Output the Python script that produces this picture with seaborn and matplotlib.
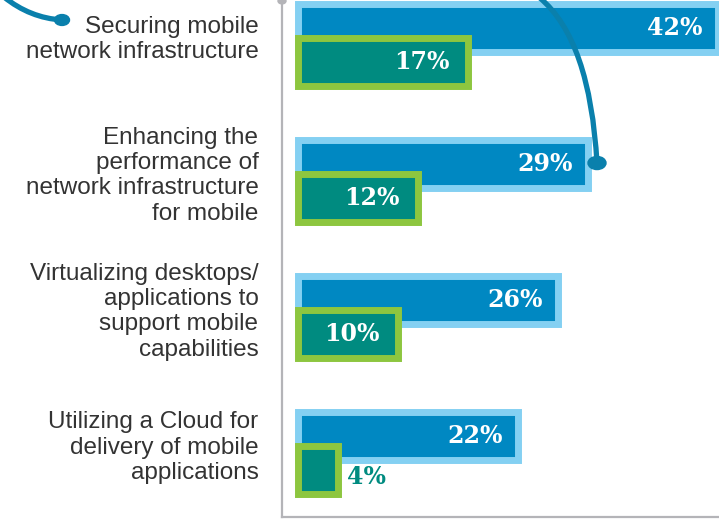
import numpy as np
import seaborn as sns
import matplotlib.pyplot as plt
from matplotlib.path import Path
from matplotlib.patches import PathPatch, Circle

# data
categories = [
    'Securing mobile\nnetwork infrastructure',
    'Enhancing the\nperformance of\nnetwork infrastructure\nfor mobile',
    'Virtualizing desktops/\napplications to\nsupport mobile\ncapabilities',
    'Utilizing a Cloud for\ndelivery of mobile\napplications',
]
blue_vals = [42, 29, 26, 22]
green_vals = [17, 12, 10, 4]

BLUE = '#0088c2'
BLUE_EDGE = '#84d0f2'
TEAL = '#008b80'
GREEN_EDGE = '#8dc63f'
CURVE = '#0a80ac'

sns.set_style('white')
plt.rcParams['font.family'] = ['Liberation Sans', 'DejaVu Sans']

fig = plt.figure(figsize=(7.19, 5.22), dpi=100)
ax = fig.add_axes([282 / 719, 5 / 522, 1 - 282 / 719, 517 / 522])

idx = np.arange(len(categories))
off = 0.125
sns.barplot(x=blue_vals, y=idx - off, orient='y', native_scale=True, width=0.35,
            color=BLUE, edgecolor=BLUE_EDGE, linewidth=5, saturation=1,
            errorbar=None, ax=ax)
sns.barplot(x=green_vals, y=idx + off, orient='y', native_scale=True, width=0.35,
            color=TEAL, edgecolor=GREEN_EDGE, linewidth=5, saturation=1,
            errorbar=None, ax=ax)

ax.set_xlim(-1.6, 42.1)
ax.set_ylim(3.47, -0.33)
ax.set_xticks([])
# labels sit a little above the middle of each pair of bars
ax.set_yticks(idx - 0.07)
ax.set_yticklabels(categories, fontsize=17.5, color='#333333', linespacing=1.2)
ax.tick_params(axis='y', length=0, pad=17)
ax.set_xlabel('')
ax.set_ylabel('')

for s in ['top', 'right']:
    ax.spines[s].set_visible(False)
for s in ['left', 'bottom']:
    ax.spines[s].set_color('#b4b4b8')
    ax.spines[s].set_linewidth(1.6)

lab_kw = dict(fontfamily='DejaVu Serif', fontweight='bold',
              fontsize=17, va='center')
for i, (b, g) in enumerate(zip(blue_vals, green_vals)):
    ax.text(b - 1.5, i - off, f'{b}%', color='white', ha='right', **lab_kw)
    if g >= 8:
        ax.text(g - 1.8, i + off, f'{g}%', color='white', ha='right', **lab_kw)
    else:
        ax.text(g + 0.9, i + off + 0.05, f'{g}%', color=TEAL, ha='left', **lab_kw)

# decorative connector curves (pixel coords of the figure)
W, H = 719, 522
def px(x, y):
    return (x / W, 1 - y / H)

for pts, dot, r in [([(4, -3), (30, 18), (62, 20)], (62, 20), 7.5),
                    ([(540, -2), (590, 40), (597, 163)], (597, 163), 9)]:
    path = Path([px(*p) for p in pts], [Path.MOVETO, Path.CURVE3, Path.CURVE3])
    fig.patches.append(PathPatch(path, transform=fig.transFigure, fill=False,
                                 edgecolor=CURVE, linewidth=3.8, capstyle='round'))
    fig.patches.append(Circle(px(*dot), r / W, transform=fig.transFigure,
                              color=CURVE))

# grey cap at the top of the axis line
fig.patches.append(Circle(px(282, 1), 4 / W, transform=fig.transFigure, color='#b4b4b8'))

plt.savefig('out.png', dpi=100)
